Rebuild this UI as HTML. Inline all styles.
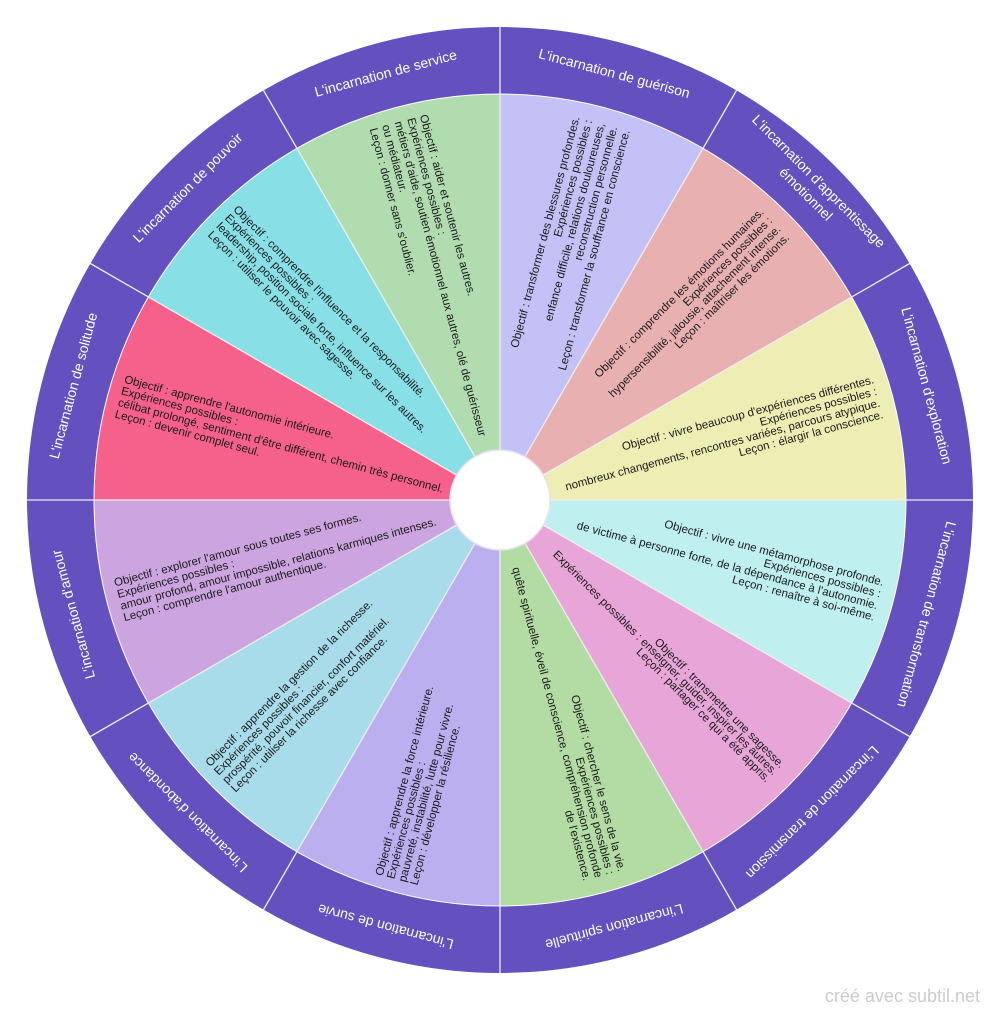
<!DOCTYPE html>
<html><head><meta charset="utf-8"><style>
html,body{margin:0;padding:0;background:#fff;}
svg{display:block;}
.t{font-family:"Liberation Sans",sans-serif;font-size:11.5px;fill:#1a1a1a;}
.o{font-family:"Liberation Sans",sans-serif;font-size:14px;fill:#fff;text-anchor:middle;}
</style></head><body>
<svg width="1000" height="1016" viewBox="0 0 1000 1016" xmlns="http://www.w3.org/2000/svg">
<circle cx="500" cy="500" r="473" fill="#6450be"/>
<defs><path id="w" d="M500,500 L500,94 A406,406 0 0 1 703,148.4 Z"/></defs>
<use href="#w" fill="#c3c1f5"/>
<use href="#w" fill="#e8b0b0" transform="rotate(30 500 500)"/>
<use href="#w" fill="#eeedb3" transform="rotate(60 500 500)"/>
<use href="#w" fill="#c0eff0" transform="rotate(90 500 500)"/>
<use href="#w" fill="#e8a6d8" transform="rotate(120 500 500)"/>
<use href="#w" fill="#b2dca4" transform="rotate(150 500 500)"/>
<use href="#w" fill="#bcaff0" transform="rotate(180 500 500)"/>
<use href="#w" fill="#a8dcea" transform="rotate(210 500 500)"/>
<use href="#w" fill="#cba4e0" transform="rotate(240 500 500)"/>
<use href="#w" fill="#f5618a" transform="rotate(270 500 500)"/>
<use href="#w" fill="#88dfe6" transform="rotate(300 500 500)"/>
<use href="#w" fill="#b1dcb0" transform="rotate(330 500 500)"/>
<circle cx="500" cy="500" r="406" fill="none" stroke="#fff" stroke-width="1"/>
<g stroke="#eee" stroke-width="1.3">
<line x1="500" y1="450" x2="500" y2="27"/>
<line x1="500" y1="450" x2="500" y2="27" transform="rotate(30 500 500)"/>
<line x1="500" y1="450" x2="500" y2="27" transform="rotate(60 500 500)"/>
<line x1="500" y1="450" x2="500" y2="27" transform="rotate(90 500 500)"/>
<line x1="500" y1="450" x2="500" y2="27" transform="rotate(120 500 500)"/>
<line x1="500" y1="450" x2="500" y2="27" transform="rotate(150 500 500)"/>
<line x1="500" y1="450" x2="500" y2="27" transform="rotate(180 500 500)"/>
<line x1="500" y1="450" x2="500" y2="27" transform="rotate(210 500 500)"/>
<line x1="500" y1="450" x2="500" y2="27" transform="rotate(240 500 500)"/>
<line x1="500" y1="450" x2="500" y2="27" transform="rotate(270 500 500)"/>
<line x1="500" y1="450" x2="500" y2="27" transform="rotate(300 500 500)"/>
<line x1="500" y1="450" x2="500" y2="27" transform="rotate(330 500 500)"/>
</g>
<circle cx="500" cy="500" r="50" fill="#fff" stroke="#e8e0f4" stroke-width="1.5"/>

<g transform="translate(500 500)">
<text class="o" transform="rotate(15)" x="0" y="-437">L'incarnation de guérison</text>
<text class="o" transform="rotate(45)" x="0" y="-446">L'incarnation d'apprentissage</text>
<text class="o" transform="rotate(45)" x="0" y="-428">émotionnel</text>
<text class="o" transform="rotate(75)" x="0" y="-437">L'incarnation d'exploration</text>
<text class="o" transform="rotate(105)" x="0" y="-437">L'incarnation de transformation</text>
<text class="o" transform="rotate(135)" x="0" y="-437">L'incarnation de transmission</text>
<text class="o" transform="rotate(165)" x="0" y="-437">L'incarnation spirituelle</text>
<text class="o" transform="rotate(195)" x="0" y="-437">L'incarnation de survie</text>
<text class="o" transform="rotate(225)" x="0" y="-437">L'incarnation d'abondance</text>
<text class="o" transform="rotate(255)" x="0" y="-437">L'incarnation d'amour</text>
<text class="o" transform="rotate(285)" x="0" y="-437">L'incarnation de solitude</text>
<text class="o" transform="rotate(315)" x="0" y="-437">L'incarnation de pouvoir</text>
<text class="o" transform="rotate(345)" x="0" y="-437">L'incarnation de service</text>
</g>

<g transform="translate(500 500) rotate(-75)" class="t" text-anchor="end">
<text x="390" y="-22">Objectif : transformer des blessures profondes.</text>
<text x="390" y="-9">Expériences possibles :</text>
<text x="390" y="4">enfance difficile, relations douloureuses,</text>
<text x="390" y="17">reconstruction personnelle.</text>
<text x="390" y="30">Leçon : transformer la souffrance en conscience.</text>
</g>
<g transform="translate(500 500) rotate(-45)" class="t" text-anchor="end">
<text x="390" y="-16">Objectif : comprendre les émotions humaines.</text>
<text x="390" y="-4">Expériences possibles :</text>
<text x="390" y="8">hypersensibilité, jalousie, attachement intense.</text>
<text x="390" y="20">Leçon : maîtriser les émotions.</text>
</g>
<g transform="translate(500 500) rotate(-15)" class="t" text-anchor="end">
<text x="392" y="-16">Objectif : vivre beaucoup d'expériences différentes.</text>
<text x="392" y="-4">Expériences possibles :</text>
<text x="392" y="8">nombreux changements, rencontres variées, parcours atypique.</text>
<text x="392" y="20">Leçon : élargir la conscience.</text>
</g>
<g transform="translate(500 500) rotate(15)" class="t" text-anchor="end">
<text x="392" y="-16">Objectif : vivre une métamorphose profonde.</text>
<text x="392" y="-4">Expériences possibles :</text>
<text x="392" y="8">de victime à personne forte, de la dépendance à l'autonomie.</text>
<text x="392" y="20">Leçon : renaître à soi-même.</text>
</g>
<g transform="translate(500 500) rotate(45)" class="t" text-anchor="end">
<text x="388" y="-8">Objectif : transmettre une sagesse.</text>
<text x="388" y="2">Expériences possibles : enseigner, guider, inspirer les autres.</text>
<text x="388" y="12">Leçon : partager ce qui a été appris.</text>
</g>
<g transform="translate(500 500) rotate(75)" class="t" text-anchor="end">
<text x="390" y="-18">Objectif :  chercher le sens de la vie.</text>
<text x="390" y="-6">Expériences possibles :</text>
<text x="390" y="6">quête spirituelle, éveil de conscience, compréhension profonde</text>
<text x="390" y="18">de l'existence.</text>
</g>

<g transform="translate(500 500) rotate(285)" class="t" text-anchor="start">
<text x="-394" y="-16">Objectif : apprendre la force intérieure.</text>
<text x="-394" y="-4">Expériences possibles :</text>
<text x="-394" y="8">pauvreté, instabilité, lutte pour vivre.</text>
<text x="-394" y="20">Leçon : développer la résilience.</text>
</g>
<g transform="translate(500 500) rotate(315)" class="t" text-anchor="start">
<text x="-394" y="-16">Objectif : apprendre la gestion de la richesse.</text>
<text x="-394" y="-4">Expériences possibles :</text>
<text x="-394" y="8">prospérité, pouvoir financier, confort matériel.</text>
<text x="-394" y="20">Leçon : utiliser la richesse avec confiance.</text>
</g>
<g transform="translate(500 500) rotate(345)" class="t" text-anchor="start">
<text x="-394" y="-16">Objectif : explorer l'amour sous toutes ses formes.</text>
<text x="-394" y="-4">Expériences possibles :</text>
<text x="-394" y="8">amour profond, amour impossible, relations karmiques intenses.</text>
<text x="-394" y="20">Leçon : comprendre l'amour authentique.</text>
</g>
<g transform="translate(500 500) rotate(15)" class="t" text-anchor="start">
<text x="-394" y="-16">Objectif : apprendre l'autonomie intérieure.</text>
<text x="-394" y="-4">Expériences possibles :</text>
<text x="-394" y="8">célibat prolongé, sentiment d'être différent, chemin très personnel.</text>
<text x="-394" y="20">Leçon : devenir complet seul.</text>
</g>
<g transform="translate(500 500) rotate(45)" class="t" text-anchor="start">
<text x="-394" y="-16">Objectif : comprendre l'influence et la responsabilité.</text>
<text x="-394" y="-4">Expériences possibles :</text>
<text x="-394" y="8">leadership, position sociale forte, influence sur les autres.</text>
<text x="-394" y="20">Leçon : utiliser le pouvoir avec sagesse.</text>
</g>
<g transform="translate(500 500) rotate(75)" class="t" text-anchor="start">
<text x="-392" y="-22">Objectif : aider et soutenir les autres.</text>
<text x="-392" y="-9">Expériences possibles :</text>
<text x="-392" y="4">métiers d'aide, soutien émotionnel aux autres, olé de guérisseur</text>
<text x="-392" y="17">ou médiateur.</text>
<text x="-392" y="30">Leçon : donner sans s'oublier.</text>
</g>

<text x="980" y="1002" text-anchor="end" font-family="Liberation Sans, sans-serif" font-size="18" fill="#cccccc">créé avec subtil.net</text>
</svg>
</body></html>
